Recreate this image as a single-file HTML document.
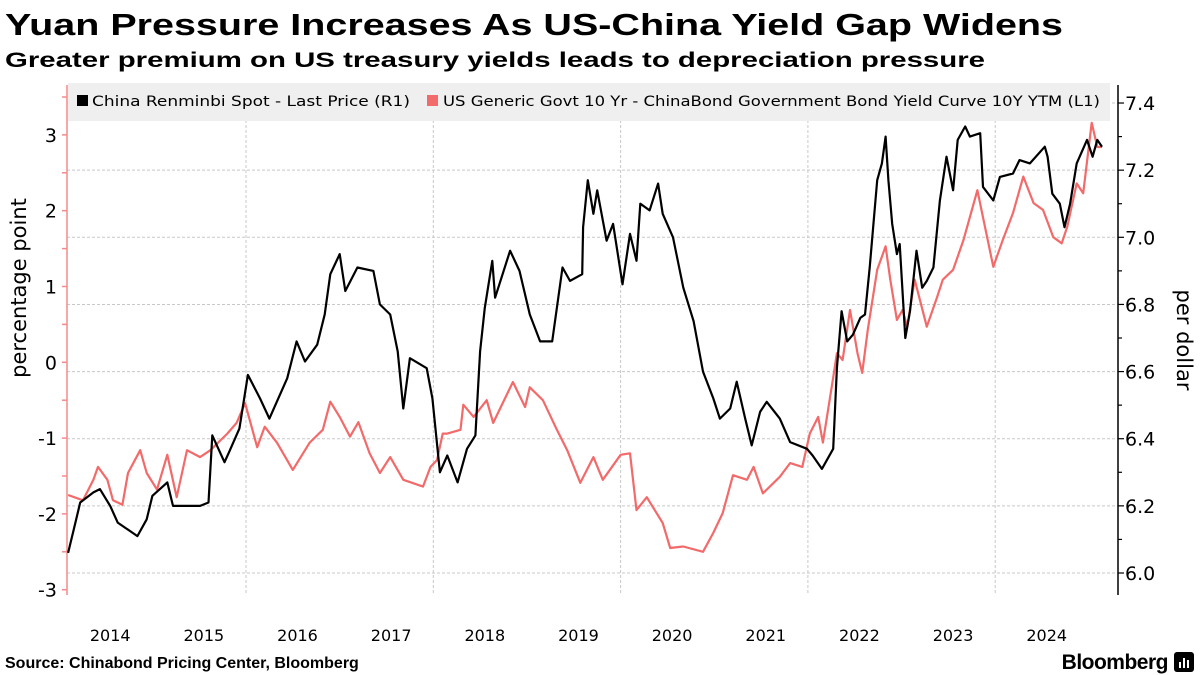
<!DOCTYPE html>
<html><head><meta charset="utf-8"><style>
body{margin:0;background:#fff;}
svg{display:block;font-family:"Liberation Sans",sans-serif;}
.dv{font-family:"DejaVu Sans","Liberation Sans",sans-serif;}
</style></head><body>
<svg id="chart" width="1200" height="675" viewBox="0 0 1200 675">
<text x="5" y="35" font-size="31" font-weight="bold" textLength="1058" lengthAdjust="spacingAndGlyphs">Yuan Pressure Increases As US-China Yield Gap Widens</text>
<text x="5" y="67" font-size="21" font-weight="bold" textLength="980" lengthAdjust="spacingAndGlyphs">Greater premium on US treasury yields leads to depreciation pressure</text>
<g id="grid"></g>
<rect x="68" y="83" width="1042" height="38" fill="#efefef"/>
<g class="dv"><rect x="77" y="95" width="11" height="11" fill="#000"/><text x="92" y="106" font-size="14" textLength="318" lengthAdjust="spacingAndGlyphs">China Renminbi Spot - Last Price (R1)</text></g>
<g class="dv"><rect x="427" y="95" width="11" height="11" fill="#f26a6a"/><text x="443" y="106" font-size="14" textLength="657" lengthAdjust="spacingAndGlyphs">US Generic Govt 10 Yr - ChinaBond Government Bond Yield Curve 10Y YTM (L1)</text></g>
<g id="axes" class="dv"></g>
<g id="series"></g>
<text class="dv" transform="translate(26,288) rotate(-90)" text-anchor="middle" font-size="21">percentage point</text>
<text class="dv" transform="translate(1177,340) rotate(90)" text-anchor="middle" font-size="21">per dollar</text>
<text x="5" y="668" font-size="16" font-weight="bold">Source: Chinabond Pricing Center, Bloomberg</text>
<text x="1168" y="669" font-size="21" font-weight="bold" text-anchor="end" letter-spacing="-0.5">Bloomberg</text>
<g><rect x="1174" y="652" width="20" height="20" rx="3" fill="#000"/><rect x="1179" y="662" width="2" height="6" fill="#fff"/><rect x="1183" y="658" width="2" height="10" fill="#fff"/><rect x="1187" y="660" width="2" height="8" fill="#fff"/></g>
</svg>
<script>
const cnyDates=[2014.10,2014.17,2014.23,2014.37,2014.44,2014.55,2014.63,2014.84,2014.94,2015.00,2015.16,2015.22,2015.51,2015.60,2015.64,2015.77,2015.82,2015.93,2016.02,2016.15,2016.25,2016.44,2016.54,2016.63,2016.76,2016.84,2016.90,2017.00,2017.06,2017.19,2017.36,2017.43,2017.54,2017.62,2017.68,2017.75,2017.93,2017.99,2018.07,2018.15,2018.26,2018.36,2018.45,2018.50,2018.55,2018.63,2018.66,2018.82,2018.92,2019.03,2019.14,2019.27,2019.38,2019.46,2019.59,2019.60,2019.65,2019.71,2019.75,2019.85,2019.92,2020.02,2020.10,2020.17,2020.21,2020.31,2020.40,2020.45,2020.56,2020.67,2020.78,2020.88,2020.99,2021.06,2021.17,2021.24,2021.33,2021.40,2021.49,2021.56,2021.70,2021.81,2021.99,2022.05,2022.15,2022.27,2022.31,2022.36,2022.42,2022.48,2022.56,2022.61,2022.66,2022.74,2022.79,2022.83,2022.86,2022.90,2022.95,2022.98,2023.04,2023.09,2023.16,2023.22,2023.27,2023.34,2023.41,2023.48,2023.55,2023.60,2023.68,2023.73,2023.84,2023.87,2023.98,2024.05,2024.19,2024.26,2024.37,2024.53,2024.56,2024.61,2024.69,2024.74,2024.80,2024.87,2024.98,2025.04,2025.09,2025.14];
const cnyValues=[6.06,6.14,6.21,6.24,6.25,6.20,6.15,6.11,6.16,6.23,6.27,6.20,6.20,6.21,6.41,6.33,6.36,6.43,6.59,6.52,6.46,6.58,6.69,6.63,6.68,6.77,6.89,6.95,6.84,6.91,6.90,6.80,6.77,6.66,6.49,6.64,6.61,6.52,6.30,6.35,6.27,6.37,6.41,6.66,6.79,6.93,6.82,6.96,6.90,6.77,6.69,6.69,6.91,6.87,6.89,7.03,7.17,7.07,7.14,6.99,7.04,6.86,7.01,6.93,7.10,7.08,7.16,7.07,7.00,6.85,6.75,6.60,6.52,6.46,6.49,6.57,6.46,6.38,6.48,6.51,6.46,6.39,6.37,6.35,6.31,6.37,6.61,6.78,6.69,6.71,6.76,6.77,6.91,7.17,7.22,7.30,7.17,7.04,6.95,6.98,6.70,6.78,6.96,6.85,6.87,6.91,7.11,7.24,7.14,7.29,7.33,7.30,7.31,7.15,7.11,7.18,7.19,7.23,7.22,7.27,7.24,7.13,7.10,7.03,7.10,7.22,7.29,7.24,7.29,7.27];
const gapDates=[2014.10,2014.26,2014.37,2014.42,2014.52,2014.58,2014.68,2014.74,2014.87,2014.94,2015.05,2015.16,2015.26,2015.37,2015.51,2015.62,2015.80,2015.90,2015.99,2016.12,2016.20,2016.33,2016.50,2016.68,2016.82,2016.90,2017.00,2017.11,2017.20,2017.32,2017.43,2017.54,2017.68,2017.89,2017.97,2018.04,2018.10,2018.15,2018.29,2018.32,2018.43,2018.57,2018.64,2018.85,2018.98,2019.03,2019.17,2019.32,2019.43,2019.57,2019.71,2019.81,2020.00,2020.10,2020.17,2020.28,2020.45,2020.53,2020.67,2020.88,2020.99,2021.09,2021.20,2021.35,2021.42,2021.52,2021.70,2021.81,2021.94,2022.02,2022.11,2022.16,2022.27,2022.31,2022.37,2022.45,2022.53,2022.58,2022.64,2022.74,2022.83,2022.88,2022.95,2023.01,2023.06,2023.14,2023.27,2023.38,2023.44,2023.55,2023.66,2023.81,2023.86,2023.98,2024.08,2024.19,2024.30,2024.41,2024.51,2024.62,2024.71,2024.77,2024.87,2024.94,2025.03,2025.09,2025.14];
const gapValues=[-1.75,-1.82,-1.55,-1.38,-1.55,-1.82,-1.88,-1.46,-1.16,-1.46,-1.68,-1.22,-1.78,-1.16,-1.25,-1.16,-0.94,-0.80,-0.54,-1.12,-0.85,-1.06,-1.42,-1.06,-0.89,-0.52,-0.72,-0.98,-0.79,-1.20,-1.46,-1.25,-1.55,-1.64,-1.38,-1.29,-0.94,-0.94,-0.89,-0.56,-0.72,-0.50,-0.80,-0.26,-0.59,-0.33,-0.50,-0.89,-1.16,-1.59,-1.25,-1.55,-1.22,-1.20,-1.95,-1.78,-2.12,-2.45,-2.43,-2.50,-2.25,-1.99,-1.49,-1.55,-1.38,-1.73,-1.51,-1.33,-1.38,-0.94,-0.72,-1.06,-0.20,0.12,0.03,0.69,0.12,-0.14,0.43,1.22,1.53,1.09,0.56,0.69,0.47,1.09,0.47,0.86,1.09,1.22,1.61,2.27,1.97,1.26,1.61,1.97,2.45,2.10,2.01,1.65,1.57,1.79,2.36,2.23,3.16,2.84,2.84];
const leftTicks=[3,2,1,0,-1,-2,-3];
const rightTicks=[6.0,6.2,6.4,6.6,6.8,7.0,7.2,7.4];
const yearLabels=[2014,2015,2016,2017,2018,2019,2020,2021,2022,2023,2024];
const gridYears=[2016,2018,2020,2022,2024];

const NS="http://www.w3.org/2000/svg";
const X0=67,X1=1118,Y0=85,Y1=595;
function xs(t){return 58.7+(t-2014)*93.65;}
function yl(v){return 362.3-v*75.8;}
function yr(v){return 573-(v-6.0)*335.7;}
function mk(tag,attrs,parent){const e=document.createElementNS(NS,tag);for(const k in attrs)e.setAttribute(k,attrs[k]);parent.appendChild(e);return e;}
const grid=document.getElementById('grid'),axes=document.getElementById('axes'),series=document.getElementById('series');
rightTicks.forEach(v=>{const l=mk('line',{x1:X0,x2:X1,y1:yr(v),y2:yr(v),stroke:'#c8c8c8','stroke-dasharray':'3,2','stroke-width':1},grid);

});
gridYears.forEach(y=>{const l=mk('line',{x1:xs(y),x2:xs(y),y1:Y0,y2:Y1,stroke:'#c8c8c8','stroke-dasharray':'3,2','stroke-width':1},grid);

});
mk('line',{x1:X0,x2:X0,y1:Y0,y2:Y1,stroke:'#f58a8a','stroke-width':1.5},axes);
mk('line',{x1:X1,x2:X1,y1:Y0,y2:Y1,stroke:'#000','stroke-width':1.5},axes);
for(let v=-3;v<=3.5;v+=0.5){mk('line',{x1:X0-5,x2:X0,y1:yl(v),y2:yl(v),stroke:'#f58a8a','stroke-width':1.5},axes);}
leftTicks.forEach(v=>{const t=mk('text',{x:57,y:yl(v)+7,'text-anchor':'end','font-size':19},axes);t.textContent=v;

});
for(let i=0;i<=14;i++){const v=6.0+i*0.1;mk('line',{x1:X1,x2:X1+(i%2?4:6),y1:yr(v),y2:yr(v),stroke:'#000','stroke-width':1.2},axes);}
rightTicks.forEach(v=>{const t=mk('text',{x:1125,y:yr(v)+7,'font-size':19},axes);t.textContent=v.toFixed(1);

});
yearLabels.forEach(y=>{const t=mk('text',{x:xs(y+0.55),y:641,'text-anchor':'middle','font-size':16},axes);t.textContent=y;

});
const gp=mk('polyline',{points:gapDates.map((d,i)=>xs(d).toFixed(1)+','+yl(gapValues[i]).toFixed(1)).join(' '),fill:'none',stroke:'#f26a6a','stroke-width':2.2,'stroke-linejoin':'round'},series);


const cp=mk('polyline',{points:cnyDates.map((d,i)=>xs(d).toFixed(1)+','+yr(cnyValues[i]).toFixed(1)).join(' '),fill:'none',stroke:'#000','stroke-width':2.2,'stroke-linejoin':'round'},series);


</script>
</body></html>
